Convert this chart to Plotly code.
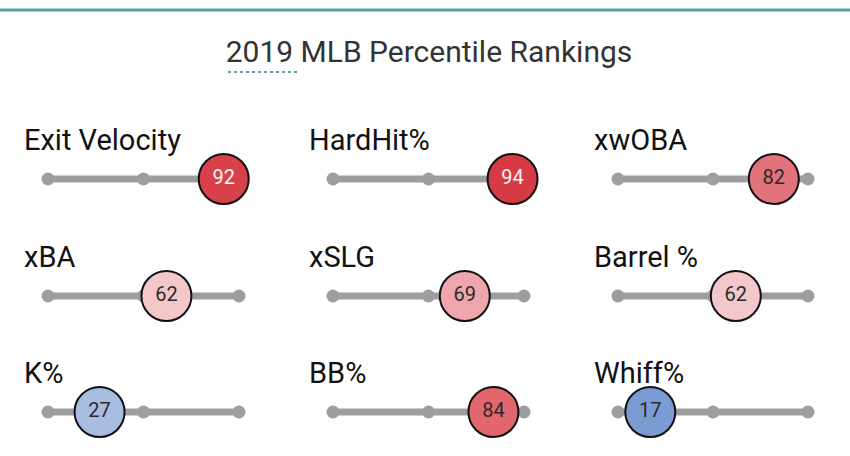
import plotly.graph_objects as go

# ---- data ----
metrics = ["Exit Velocity", "HardHit%", "xwOBA",
           "xBA", "xSLG", "Barrel %",
           "K%", "BB%", "Whiff%"]
percentiles = [92, 94, 82, 62, 69, 62, 27, 84, 17]
circle_colors = ["#d8404a", "#d63a45", "#e3737b",
                 "#f4c7cb", "#eea5ab", "#f4c7cb",
                 "#a9bde2", "#e2666e", "#7b9bd3"]
text_colors = ["#f7f7f7", "#f7f7f7", "#2a2a2a",
               "#2a2a2a", "#2a2a2a", "#2a2a2a",
               "#2a2a2a", "#2a2a2a", "#2a2a2a"]
track_ticks = [0, 50, 100]
title_text = "2019 MLB Percentile Rankings"

W, H = 850, 456
col_left = [48, 333, 618]
col_right = [239, 524, 808]
row_track = [179, 296, 412]
half = 32

fig = go.Figure()
layout_axes = {}
annotations = []
FONT = "Roboto, 'Open Sans', sans-serif"

for i, (m, p) in enumerate(zip(metrics, percentiles)):
    r, c = divmod(i, 3)
    n = i + 1
    xa = "x" if n == 1 else f"x{n}"
    ya = "y" if n == 1 else f"y{n}"
    xkey = "xaxis" if n == 1 else f"xaxis{n}"
    ykey = "yaxis" if n == 1 else f"yaxis{n}"
    yc = 1 - row_track[r] / H
    layout_axes[xkey] = dict(domain=[col_left[c] / W, col_right[c] / W], range=[0, 100],
                             visible=False, fixedrange=True, anchor=ya)
    layout_axes[ykey] = dict(domain=[yc - half / H, yc + half / H], range=[-1, 1],
                             visible=False, fixedrange=True, anchor=xa)
    # track line
    fig.add_trace(go.Scatter(x=[track_ticks[0], track_ticks[-1]], y=[0, 0], mode="lines",
                             line=dict(color="#9e9e9e", width=7), xaxis=xa, yaxis=ya,
                             hoverinfo="skip", showlegend=False, cliponaxis=False))
    # track dots
    fig.add_trace(go.Scatter(x=track_ticks, y=[0] * len(track_ticks), mode="markers",
                             marker=dict(color="#9e9e9e", size=13), xaxis=xa, yaxis=ya,
                             hoverinfo="skip", showlegend=False, cliponaxis=False))
    # percentile circle
    fig.add_trace(go.Scatter(x=[p], y=[0], mode="markers+text", text=[str(p)],
                             textposition="middle center",
                             textfont=dict(family=FONT, size=20, color=text_colors[i]),
                             marker=dict(color=circle_colors[i], size=50,
                                         line=dict(color="#111111", width=2)),
                             xaxis=xa, yaxis=ya, showlegend=False, cliponaxis=False))
    annotations.append(dict(text=m, xref="paper", yref="paper",
                            x=(col_left[c] - 26) / W, y=1 - (row_track[r] - 39) / H,
                            xanchor="left", yanchor="middle", showarrow=False,
                            font=dict(family=FONT, size=29, color="#111111")))

shapes = [
    dict(type="line", xref="paper", yref="paper", x0=0, x1=1, y0=1 - 10 / H, y1=1 - 10 / H,
         line=dict(color="#5b9ea3", width=3)),
    dict(type="line", xref="paper", yref="paper", x0=228 / W, x1=300 / W,
         y0=1 - 72 / H, y1=1 - 72 / H, line=dict(color="#5fa3ad", width=2, dash="dot")),
]

fig.update_layout(
    width=W, height=H, margin=dict(l=0, r=0, t=0, b=0),
    paper_bgcolor="white", plot_bgcolor="rgba(0,0,0,0)",
    title=dict(text=title_text, x=429 / W, xanchor="center", y=1 - 51 / H, yanchor="middle",
               font=dict(family=FONT, size=30, color="#333333")),
    annotations=annotations, shapes=shapes, **layout_axes,
)

fig.write_html("out.html", config={"displayModeBar": False},
               post_script="document.body.style.margin='0px';")
